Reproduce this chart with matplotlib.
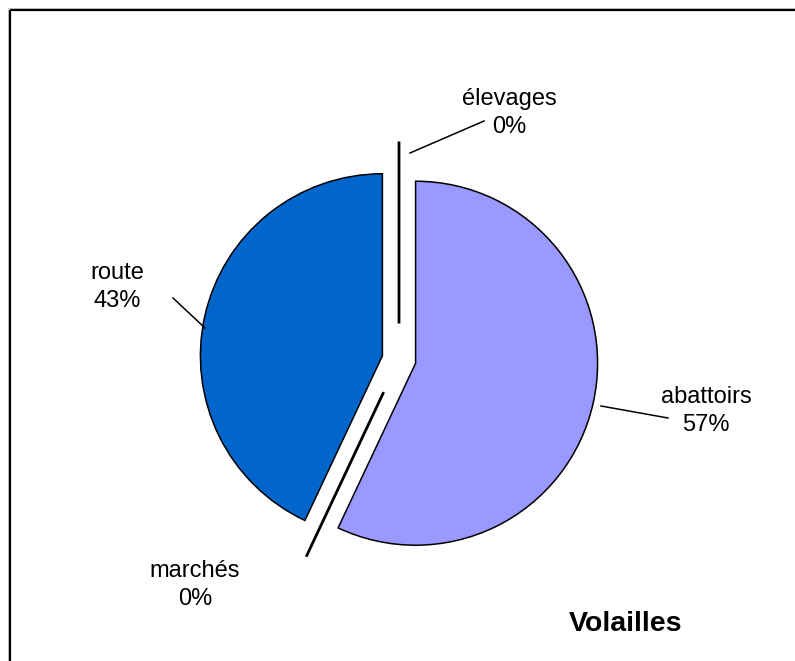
import matplotlib
matplotlib.use("Agg")
import matplotlib.pyplot as plt

# ---- data ----
categories = ["abattoirs", "marchés", "route", "élevages"]
values = [57, 0, 43, 0]
colors = ["#9999FF", "#FFFFFF", "#0066CC", "#FFFFFF"]
title = "Volailles"

# ---- layout (pixel coordinates, y measured from top) ----
W, H = 795, 661
center_px = (399, 359.5)
radius = 182
explode = [17, 36, 17, 36]
label_pos = {"abattoirs": (706, 411), "marchés": (195, 585),
             "route": (117, 287), "élevages": (509, 113)}
leaders = {"abattoirs": ((601, 406), (668, 418)),
           "route": ((205, 328), (173, 298)),
           "élevages": ((410, 153), (484, 121))}
title_pos = (626, 624)

def Y(y):
    return H - y

plt.rcParams['font.family'] = ['Liberation Sans', 'DejaVu Sans']
fig = plt.figure(figsize=(W / 100, H / 100), dpi=100)
ax = fig.add_axes([0, 0, 1, 1])

wedges, _ = ax.pie(values, colors=colors, startangle=90, counterclock=False,
                   explode=explode, radius=radius,
                   center=(center_px[0], Y(center_px[1])),
                   wedgeprops=dict(edgecolor="black", linewidth=1.1),
                   frame=True)
for w, v in zip(wedges, values):
    if v == 0:
        w.set_linewidth(2.0)
        w.set_fill(False)

ax.set_xlim(0, W)
ax.set_ylim(0, H)
ax.set_aspect("equal")
ax.axis("off")

total = sum(values)
for cat, v in zip(categories, values):
    x, y = label_pos[cat]
    ax.text(x, Y(y), f"{cat}\n{v / total * 100:.0f}%", ha="center", va="center",
            multialignment="center", fontsize=17, linespacing=1.4, color="black")
    if cat in leaders:
        (x0, y0), (x1, y1) = leaders[cat]
        ax.plot([x0, x1], [Y(y0), Y(y1)], color="black", lw=1.1)

ax.text(title_pos[0], Y(title_pos[1]), title, ha="center", va="center",
        fontsize=20.5, fontweight="bold", color="black")

# chart area border (top and left visible)
ax.plot([7.5, 7.5], [Y(7.5), 0], color="#cccccc", lw=0.8, zorder=1)
ax.plot([7.5, W], [Y(7.5), Y(7.5)], color="#cccccc", lw=0.8, zorder=1)
ax.plot([9.5, 9.5], [Y(9.5), 0], color="black", lw=1.6, solid_capstyle="butt", zorder=2)
ax.plot([9.5, W], [Y(9.5), Y(9.5)], color="black", lw=1.6, solid_capstyle="butt", zorder=2)

fig.savefig("out.png", dpi=100)
